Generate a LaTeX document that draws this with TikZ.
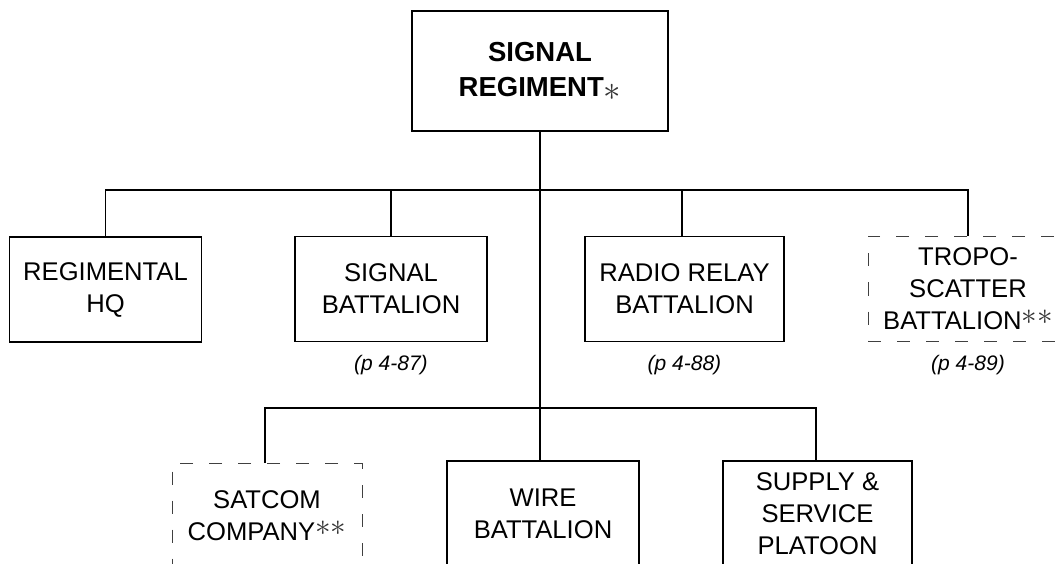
\documentclass[tikz,border=0pt]{standalone}
\usepackage{fontspec}
\setmainfont{Liberation Sans}
\usetikzlibrary{positioning}

\newcommand{\starmark}{{\color{black!80}\raisebox{-4pt}{\scalebox{1.4}{$\ast$}}}}
\newcommand{\starsup}{{\color{black!80}\raisebox{5pt}{\scalebox{1.25}{$\ast$}}}}
\begin{document}
\begin{tikzpicture}[x=1pt,y=-1pt,node distance=13pt]
  \tikzstyle{unit}=[draw,line width=1.3pt,minimum width=192pt,minimum height=105pt,align=center,
    font=\fontsize{25.6}{32}\selectfont,inner sep=0pt]
  \tikzstyle{planned}=[unit,draw=black!75,line width=0.9pt,dash pattern=on 13pt off 16pt]
  \tikzstyle{pageref}=[inner sep=0pt,font=\fontsize{21}{24}\selectfont\itshape]
  \tikzstyle{link}=[line width=1.3pt]
  \clip (0,0) rectangle (1058,564);
  \node[unit,minimum width=256pt,minimum height=120pt,font=\fontsize{27.5}{35}\selectfont\bfseries] (reg) at (540,71)
    {SIGNAL\\REGIMENT\starmark};
  \node[unit] (hq) at (105.5,289.5) {REGIMENTAL\\HQ};
  \node[unit] (sigbn) at (391,289) {SIGNAL\\BATTALION};
  \node[unit,minimum width=199pt] (rrbn) at (684.5,289) {RADIO RELAY\\BATTALION};
  \node[planned,minimum width=200pt] (tropo) at (968,289) {TROPO-\\SCATTER\\BATTALION\starsup\starsup};
  \node[pageref,below=of sigbn] (pgsig) {(p 4-87)};
  \node[pageref,below=of rrbn] (pgrr) {(p 4-88)};
  \node[pageref,below=of tropo] (pgtropo) {(p 4-89)};
  \node[planned,minimum width=190pt] (satcom) at (267,516) {SATCOM\\COMPANY\starsup\starsup};
  \node[unit] (wire) at (543,513.5) {WIRE\\BATTALION};
  \node[unit,minimum width=189pt] (supply) at (817.5,513.5) {SUPPLY \&\\SERVICE\\PLATOON};
  % buses
  \coordinate (bus1) at (540,190);
  \coordinate (bus2) at (540,408);
  \draw[link] (reg.south) -- (bus2) -- (bus2 |- wire.north);
  \draw[link] (hq.north) |- (bus1);
  \draw[link] (sigbn.north) |- (bus1);
  \draw[link] ([xshift=-2.5pt]rrbn.north) |- (bus1);
  \draw[link] (tropo.north) |- (bus1);
  \draw[link] ([xshift=-2pt]satcom.north) |- (bus2);
  \draw[link] ([xshift=-1.5pt]supply.north) |- (bus2);
\end{tikzpicture}
\end{document}
